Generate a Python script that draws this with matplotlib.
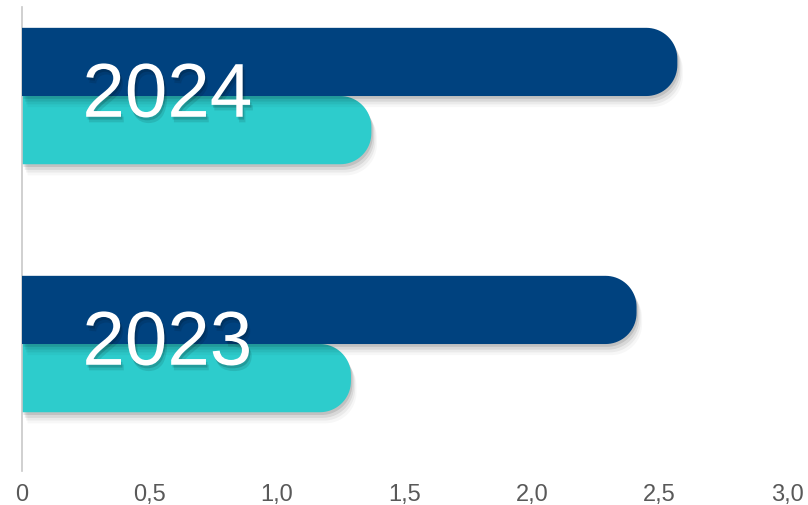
import matplotlib
matplotlib.use("Agg")
import numpy as np
import matplotlib.pyplot as plt
from matplotlib.patches import Polygon
import matplotlib.patheffects as pe

plt.rcParams['font.family'] = ['Liberation Sans', 'DejaVu Sans']

# data
years = ['2023', '2024']
serie_dark = [2.41, 2.57]
serie_teal = [1.29, 1.37]
xticks = [0, 0.5, 1.0, 1.5, 2.0, 2.5, 3.0]
xtick_labels = ['0', '0,5', '1,0', '1,5', '2,0', '2,5', '3,0']

dark = '#00427F'
teal = '#2DCCCC'

W, H = 808, 506
fig = plt.figure(figsize=(W / 100, H / 100), dpi=100)
# axes placed in pixels: x 22..787, y 8..472 (from top)
ax = fig.add_axes([22 / W, 34 / H, 765 / W, 464 / H])
ax.set_xlim(0, 3.0)
ax.set_ylim(-0.512, 1.359)

bar_h = 0.275
px_x = 765 / 3.0        # px per x unit
px_y = 464 / 1.871      # px per y unit
r_px = 31
rx = r_px / px_x
ry = r_px / px_y

shadow = [
    pe.SimplePatchShadow(offset=(1, -2), shadow_rgbFace='#000000', alpha=0.10),
    pe.SimplePatchShadow(offset=(2, -4), shadow_rgbFace='#000000', alpha=0.08),
    pe.SimplePatchShadow(offset=(3, -6), shadow_rgbFace='#000000', alpha=0.05),
    pe.SimplePatchShadow(offset=(4, -8), shadow_rgbFace='#000000', alpha=0.03),
    pe.Normal(),
]


def rounded_bar(y0, width, color, z):
    # square left end, rounded right corners
    t = np.linspace(0, np.pi / 2, 20)
    x_end = width - rx
    top = [(x_end + rx * np.sin(a), y0 + bar_h - ry + ry * np.cos(a)) for a in t]
    bot = [(x_end + rx * np.cos(a), y0 + ry - ry * np.sin(a)) for a in t]
    pts = [(0, y0 + bar_h)] + top + bot + [(0, y0)]
    p = Polygon(pts, closed=True, facecolor=color, edgecolor='none', zorder=z)
    p.set_path_effects(shadow)
    ax.add_patch(p)


txt_shadow = [
    pe.SimplePatchShadow(offset=(1, -2), shadow_rgbFace='#000000', alpha=0.15),
    pe.SimplePatchShadow(offset=(2, -4), shadow_rgbFace='#000000', alpha=0.10),
    pe.Normal(),
]

for i, yr in enumerate(years):
    rounded_bar(i - bar_h, serie_teal[i], teal, 2)
    rounded_bar(i, serie_dark[i], dark, 3)
    ax.text(0.57, i - 0.005, yr, color='white', fontsize=55, ha='center',
            va='center', zorder=5, path_effects=txt_shadow)

ax.set_xticks(xticks)
ax.set_xticklabels(xtick_labels, color='#595959', fontsize=17)
ax.tick_params(axis='x', length=0, pad=9)
ax.set_yticks([])
for s in ['top', 'right', 'bottom']:
    ax.spines[s].set_visible(False)
ax.spines['left'].set_color('#C8C8C8')
ax.spines['left'].set_linewidth(1.2)

fig.savefig('out.png', dpi=100)
